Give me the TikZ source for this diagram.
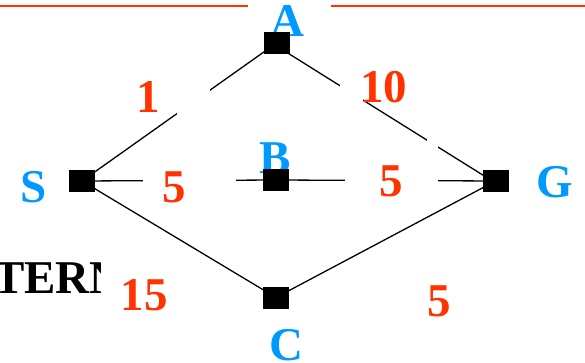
\documentclass[tikz,border=0pt]{standalone}
\usepackage{fontspec}
\setmainfont{Liberation Serif}
\definecolor{lblblue}{RGB}{0,153,255}
\definecolor{wred}{RGB}{255,51,0}
\begin{document}
\begin{tikzpicture}[x=1pt,y=-1pt,
  vbox/.style={fill=black,draw=none,minimum width=26pt,minimum height=22pt,inner sep=0pt},
  bigtxt/.style={font=\fontsize{47}{50}\selectfont\bfseries,anchor=base,inner sep=0pt},
  vname/.style={bigtxt,text=lblblue},
  wt/.style={bigtxt,text=wred},
  link/.style={line width=1.3pt,black},
  gapbox/.style={fill=white,draw=none},
  topline/.style={line width=2.8pt,wred}]
\useasboundingbox (0,0) rectangle (585,363);

% vertex positions
\coordinate (Sp) at (82,181);
\coordinate (Ap) at (276.5,43);
\coordinate (Bp) at (276,180);
\coordinate (Gp) at (495.5,181);
\coordinate (Cp) at (276,297.5);

% top rule
\coordinate (tl0) at (0,6);
\coordinate (tl1) at (248,6);
\coordinate (tr0) at (331,6);
\coordinate (tr1) at (585,6);
\draw[topline] (tl0) -- (tl1);
\draw[topline] (tr0) -- (tr1);

% edges
\draw[link] (Sp) -- (Ap);
\draw[link] ([yshift=-3pt]Ap) -- ([yshift=-2pt]Gp);
\draw[link] (Sp) -- (Bp) -- (Gp);
\draw[link] (Sp) -- (Cp);
\draw[link] (Cp) -- (Gp);

% gaps left by label backgrounds
\fill[gapbox] (177,80) rectangle (210,125);
\fill[gapbox] (340,70) rectangle (363,120);
\fill[gapbox] (427,130) rectangle (438,160);
\fill[gapbox] (143,172) rectangle (236,190);
\fill[gapbox] (345,172) rectangle (438,190);

% clipped text at left
\begin{scope}
  \clip (-10,240) rectangle (100,310);
  \node[bigtxt,anchor=base west,text=black] (tern) at (-7,293) {TERN};
\end{scope}

% vertex labels
\node[vname] (Sl) at (33.5,202.5) {S};
\node[vname] (Al) at (287,37) {A};
\node[vname] (Bl) at (275,173.5) {B};
\node[vname] (Gl) at (555,197.5) {G};
\node[vname] (Cl) at (286,360.5) {C};

% weights
\node[wt] (w1) at (148,113) {1};
\node[wt] (w10) at (383.5,103) {10};
\node[wt] (w5a) at (174,203) {5};
\node[wt] (w5b) at (391,196.5) {5};
\node[wt] (w15) at (144,310) {15};
\node[wt] (w5c) at (439,316.5) {5};

% vertex boxes
\node[vbox] (S) at (Sp) {};
\node[vbox] (A) at (Ap) {};
\node[vbox] (B) at (Bp) {};
\node[vbox] (G) at (Gp) {};
\node[vbox] (C) at (Cp) {};
\end{tikzpicture}
\end{document}
